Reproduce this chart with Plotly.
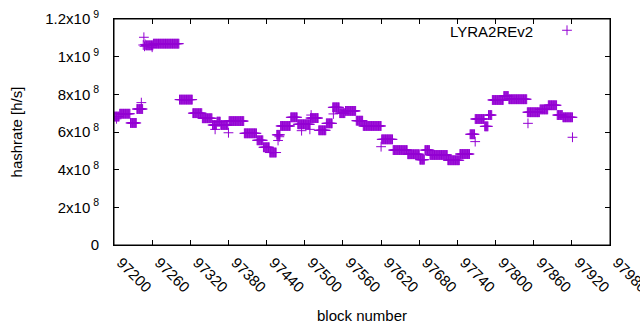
import numpy as np
import plotly.graph_objects as go

# constant-hashrate runs (block start, block end, hashrate in 1e8 h/s)
run_start = [97200, 97209, 97226, 97236, 97250, 97262, 97303, 97324, 97339, 97355,
             97362, 97368, 97381, 97405, 97425, 97435, 97445, 97456, 97462, 97478,
             97489, 97509, 97522, 97534, 97544, 97555, 97564, 97581, 97592, 97621,
             97639, 97662, 97681, 97689, 97697, 97725, 97744, 97760, 97768, 97783,
             97789, 97795, 97813, 97821, 97850, 97870, 97883, 97897, 97906]
run_end = [97208, 97225, 97235, 97245, 97261, 97302, 97323, 97338, 97354, 97361,
           97367, 97379, 97404, 97424, 97434, 97444, 97455, 97461, 97477, 97488,
           97508, 97521, 97533, 97543, 97554, 97563, 97580, 97591, 97620, 97638,
           97661, 97680, 97688, 97696, 97724, 97743, 97759, 97767, 97782, 97788,
           97794, 97812, 97820, 97849, 97869, 97882, 97896, 97905, 97921]
run_value = [6.82, 6.97, 6.48, 7.22, 10.60, 10.69, 7.72, 7.00, 6.73, 6.37,
             6.55, 6.37, 6.58, 5.93, 5.56, 5.19, 4.91, 5.85, 6.32, 6.78,
             6.41, 6.74, 6.09, 6.46, 7.31, 7.00, 7.12, 6.60, 6.32, 5.61,
             5.04, 4.82, 4.53, 5.04, 4.78, 4.50, 4.83, 5.88, 6.69, 6.30,
             6.90, 7.70, 7.91, 7.74, 7.05, 7.20, 7.42, 6.90, 6.78]

# isolated points
single_block = [97204, 97243, 97246, 97247, 97248, 97249, 97260, 97359, 97380, 97458,
                97460, 97495, 97508, 97510, 97545, 97620, 97768, 97851, 97921]
single_value = [6.70, 7.56, 10.62, 11.03, 10.55, 10.65, 10.50, 6.14, 5.96, 5.55,
                5.75, 6.07, 6.14, 6.90, 6.96, 5.22, 5.49, 6.46, 5.72]

series_name = "LYRA2REv2"
x_ticks = list(range(97200, 97981, 60))
y_ticks = [0, 2e8, 4e8, 6e8, 8e8, 1e9, 1.2e9]
y_tick_text = ["0", "2x10<sup> 8</sup>", "4x10<sup> 8</sup>", "6x10<sup> 8</sup>",
               "8x10<sup> 8</sup>", "1x10<sup> 9</sup>", "1.2x10<sup> 9</sup>"]

xs, ys = [], []
for s, e, v in zip(run_start, run_end, run_value):
    for b in range(s, e + 1):
        xs.append(b)
        ys.append(v * 1e8)
for b, v in zip(single_block, single_value):
    xs.append(b)
    ys.append(v * 1e8)

color = "#9400D3"
font = dict(family="Liberation Sans, Arial, sans-serif", size=15, color="black")

fig = go.Figure()
fig.add_trace(go.Scatter(
    x=xs, y=ys, mode="markers", name=" ",
    marker=dict(symbol="cross-thin", size=7, color=color,
                line=dict(color=color, width=1)),
    showlegend=True,
))

axis_common = dict(showgrid=False, zeroline=False, showline=True, linecolor="black",
                   linewidth=1, mirror="allticks", ticks="inside", ticklen=5,
                   tickcolor="black", tickfont=font, automargin=False,
                   ticklabeloverflow="allow")

fig.update_layout(
    width=640, height=330,
    margin=dict(l=114, r=30, t=19, b=85),
    plot_bgcolor="white", paper_bgcolor="white",
    font=font,
    xaxis=dict(range=[97200, 97980], tickvals=x_ticks, ticktext=[str(t) for t in x_ticks],
               tickangle=45, ticklabelstandoff=2, ticklabelshift=7,
               title=dict(text="block number", font=font, standoff=16),
               **axis_common),
    yaxis=dict(range=[0, 1.2e9], tickvals=y_ticks, ticktext=y_tick_text,
               title=dict(text="hashrate [h/s]", font=font, standoff=18),
               ticklabelstandoff=11, **axis_common),
    legend=dict(x=(547 - 114) / 496, y=(245 - 14) / 226, xanchor="left", yanchor="top",
                bgcolor="rgba(0,0,0,0)", font=font, itemsizing="trace"),
    annotations=[dict(text=series_name, xref="paper", yref="paper",
                      x=(535 - 114) / 496, y=(245 - 32) / 226, xanchor="right",
                      yanchor="middle", showarrow=False, font=font)],
    shapes=[dict(type="rect", xref="paper", yref="paper", x0=0, y0=0, x1=1, y1=1,
                 line=dict(color="black", width=1), fillcolor="rgba(0,0,0,0)",
                 layer="above")],
)

fig.write_html("out.html", config={"displayModeBar": False},
               post_script="document.body.style.margin='0';document.body.style.overflow='hidden';")
